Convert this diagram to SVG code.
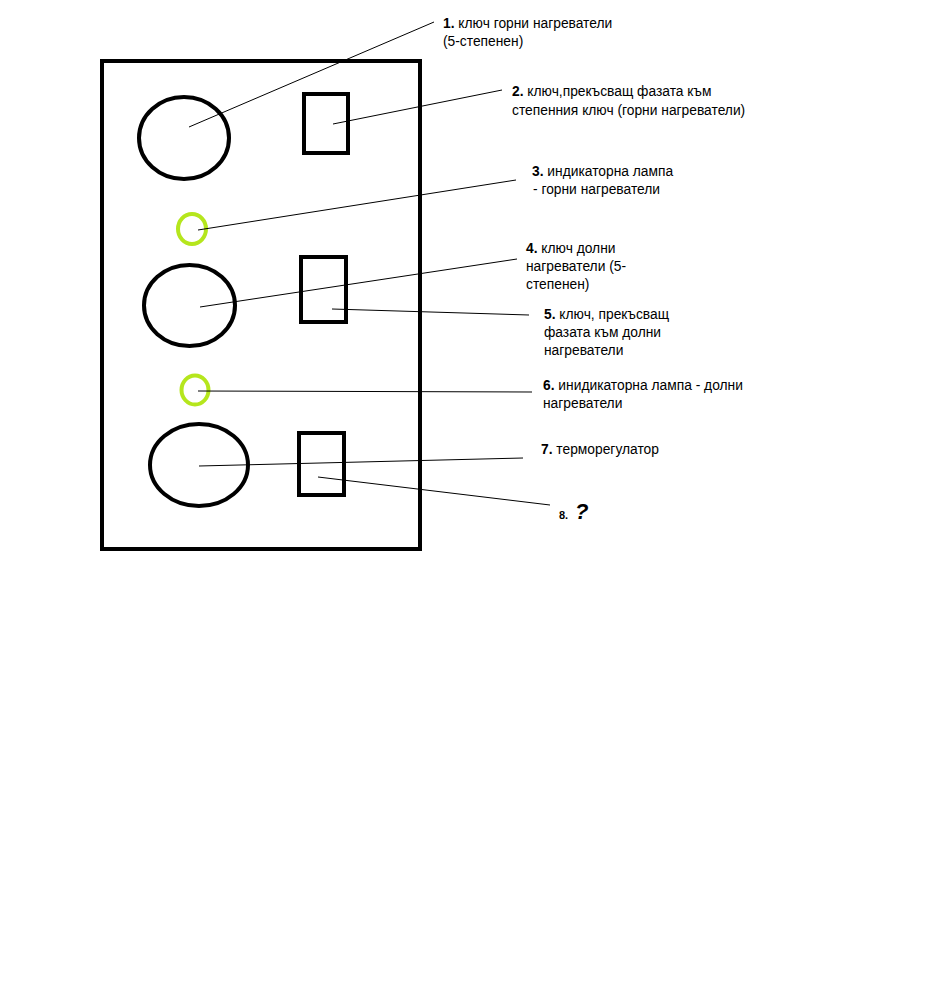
<svg xmlns="http://www.w3.org/2000/svg" width="928" height="988" viewBox="0 0 928 988">
<style>
.thick{fill:none;stroke:#000;stroke-width:4}
.lamp{fill:none;stroke:#B5E61D;stroke-width:4}
.lead{stroke:#000;stroke-width:1;fill:none}
text{font-family:"Liberation Sans",Arial,sans-serif;font-size:13.8px;fill:#000}
.n{font-weight:bold}
</style>
<rect width="928" height="988" fill="#fff"/>
<g id="panel"><rect class="thick" x="102" y="61" width="318" height="488"/></g>
<g id="knob1"><ellipse class="thick" cx="184" cy="138" rx="45" ry="41"/></g>
<g id="switch1"><rect class="thick" x="304" y="94" width="44" height="59"/></g>
<g id="lamp1"><ellipse class="lamp" cx="192" cy="229" rx="14" ry="15"/></g>
<g id="knob2"><ellipse class="thick" cx="189.5" cy="305.5" rx="45.5" ry="40.5"/></g>
<g id="switch2"><rect class="thick" x="301" y="257" width="45" height="65"/></g>
<g id="lamp2"><ellipse class="lamp" cx="195" cy="390" rx="13.5" ry="14.5"/></g>
<g id="knob3"><ellipse class="thick" cx="199" cy="465" rx="49" ry="41"/></g>
<g id="switch3"><rect class="thick" x="299" y="433" width="45" height="62"/></g>
<g id="connectors">
<line class="lead" x1="189" y1="127" x2="434" y2="22"/>
<line class="lead" x1="333" y1="124" x2="502" y2="90"/>
<line class="lead" x1="198" y1="230" x2="516" y2="180"/>
<line class="lead" x1="200" y1="307" x2="517" y2="259"/>
<line class="lead" x1="332" y1="309" x2="529" y2="315"/>
<line class="lead" x1="198" y1="391" x2="532" y2="392"/>
<line class="lead" x1="199" y1="466" x2="523" y2="458"/>
<line class="lead" x1="318" y1="477" x2="550" y2="505"/>
</g>
<g id="label1"><text x="443" y="28"><tspan class="n">1.</tspan> ключ горни нагреватели</text><text x="443" y="46">(5-степенен)</text></g>
<g id="label2"><text x="512" y="96"><tspan class="n">2.</tspan> ключ,прекъсващ фазата към</text><text x="512" y="115">степенния ключ (горни нагреватели)</text></g>
<g id="label3"><text x="532" y="176"><tspan class="n">3.</tspan> индикаторна лампа</text><text x="533" y="194">- горни нагреватели</text></g>
<g id="label4"><text x="526" y="253"><tspan class="n">4.</tspan> ключ долни</text><text x="526" y="271">нагреватели (5-</text><text x="526" y="289">степенен)</text></g>
<g id="label5"><text x="544" y="319"><tspan class="n">5.</tspan> ключ, прекъсващ</text><text x="544" y="337">фазата към долни</text><text x="544" y="355">нагреватели</text></g>
<g id="label6"><text x="543" y="390"><tspan class="n">6.</tspan> инидикаторна лампа - долни</text><text x="543" y="408">нагреватели</text></g>
<g id="label7"><text x="541" y="454"><tspan class="n">7.</tspan> терморегулатор</text></g>
<g id="label8"><text x="559" y="519" class="n" style="font-size:11px">8.</text><text x="575" y="519" class="n" style="font-size:22px;font-style:italic">?</text></g>
</svg>
